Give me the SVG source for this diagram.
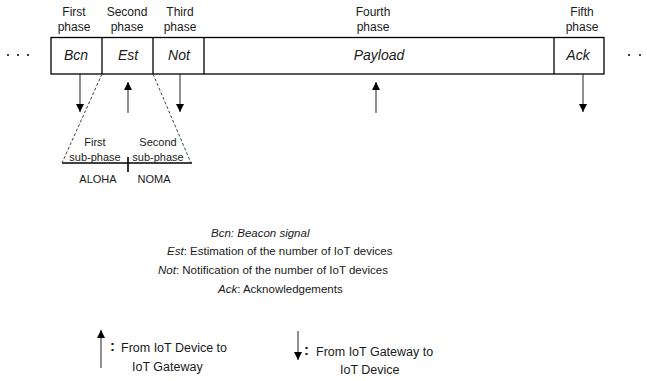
<svg xmlns="http://www.w3.org/2000/svg" width="647" height="381" viewBox="0 0 647 381">
<defs>
<marker id="ah" viewBox="0 0 10 10" refX="10" refY="5" markerWidth="8" markerHeight="8" markerUnits="userSpaceOnUse" orient="auto"><path d="M0,0 L10,5 L0,10 z" fill="#000"/></marker>
<style>
text{font-family:"Liberation Sans",Arial,sans-serif;fill:#1a1a1a;}
.lab{font-size:11px;text-anchor:middle;}
.top{font-size:12px;text-anchor:middle;}
.box{font-size:14px;font-style:italic;text-anchor:middle;}
.leg{font-size:11.5px;}
.key{font-size:12.5px;}
.arr{stroke:#222;stroke-width:1;fill:none;marker-end:url(#ah);}
.dash{stroke:#444;stroke-width:1;stroke-dasharray:3,2;fill:none;}
.ln{stroke:#000;stroke-width:1.3;fill:none;}
</style>
</defs>
<rect width="647" height="381" fill="#fff"/>
<g id="dots">
<circle cx="8" cy="55" r="1" fill="#000"/><circle cx="18" cy="55" r="1" fill="#000"/><circle cx="28" cy="55" r="1" fill="#000"/>
<circle cx="629" cy="55" r="1" fill="#000"/><circle cx="640" cy="55" r="1" fill="#000"/>
</g>
<g id="frame">
<rect x="51" y="37.5" width="553" height="36.5" fill="#fff" stroke="#000" stroke-width="1.3"/>
<line class="ln" x1="102" y1="37.5" x2="102" y2="74"/>
<line class="ln" x1="153" y1="37.5" x2="153" y2="74"/>
<line class="ln" x1="204" y1="37.5" x2="204" y2="74"/>
<line class="ln" x1="554" y1="37.5" x2="554" y2="74"/>
</g>
<g id="bcn"><text class="top" x="74" y="16">First</text><text class="top" x="74" y="31">phase</text><text class="box" x="76" y="60">Bcn</text></g>
<g id="est"><text class="top" x="127" y="16">Second</text><text class="top" x="127" y="31">phase</text><text class="box" x="128" y="60">Est</text></g>
<g id="not"><text class="top" x="180" y="16">Third</text><text class="top" x="180" y="31">phase</text><text class="box" x="179" y="60">Not</text></g>
<g id="payload"><text class="top" x="373" y="16">Fourth</text><text class="top" x="373" y="31">phase</text><text class="box" x="379" y="60">Payload</text></g>
<g id="ack"><text class="top" x="582" y="16">Fifth</text><text class="top" x="582" y="31">phase</text><text class="box" x="578" y="60">Ack</text></g>
<g id="subphases">
<line class="ln" x1="62" y1="163" x2="192" y2="163"/>
<line x1="128" y1="157" x2="128" y2="172" stroke="#000" stroke-width="1.6"/>
<text class="lab" x="95" y="146">First</text>
<text class="lab" x="95" y="161">sub-phase</text>
<text class="lab" x="158" y="146">Second</text>
<text class="lab" x="158" y="161">sub-phase</text>
<text class="lab" x="98" y="183" font-size="10">ALOHA</text>
<text class="lab" x="154" y="183" font-size="10">NOMA</text>
</g>
<g id="connectors">
<line class="arr" x1="80" y1="74" x2="80" y2="112"/>
<line class="arr" x1="128" y1="113" x2="128" y2="82"/>
<line class="arr" x1="180" y1="74" x2="180" y2="112"/>
<line class="arr" x1="376" y1="113" x2="376" y2="82"/>
<line class="arr" x1="583" y1="74" x2="583" y2="112"/>
<line class="dash" x1="102" y1="74" x2="62" y2="163"/>
<line class="dash" x1="153" y1="74" x2="191" y2="163"/>
</g>
<g id="legend">
<text class="leg" x="211" y="237" font-style="italic">Bcn: Beacon signal</text>
<text class="leg" x="167" y="255"><tspan font-style="italic">Est</tspan>: Estimation of the number of IoT devices</text>
<text class="leg" x="158" y="274"><tspan font-style="italic">Not</tspan>: Notification of the number of IoT devices</text>
<text class="leg" x="218" y="293"><tspan font-style="italic">Ack</tspan>: Acknowledgements</text>
</g>
<g id="key-up">
<line class="arr" x1="101" y1="368" x2="101" y2="330"/>
<text x="110" y="351" font-size="15" font-weight="bold">:</text>
<text class="key" x="121" y="352">From IoT Device to</text>
<text class="key" x="132" y="371">IoT Gateway</text>
</g>
<g id="key-down">
<line class="arr" x1="298" y1="331" x2="298" y2="360"/>
<text x="304" y="355" font-size="15" font-weight="bold">:</text>
<text class="key" x="316" y="356">From IoT Gateway to</text>
<text class="key" x="340" y="374">IoT Device</text>
</g>
</svg>
